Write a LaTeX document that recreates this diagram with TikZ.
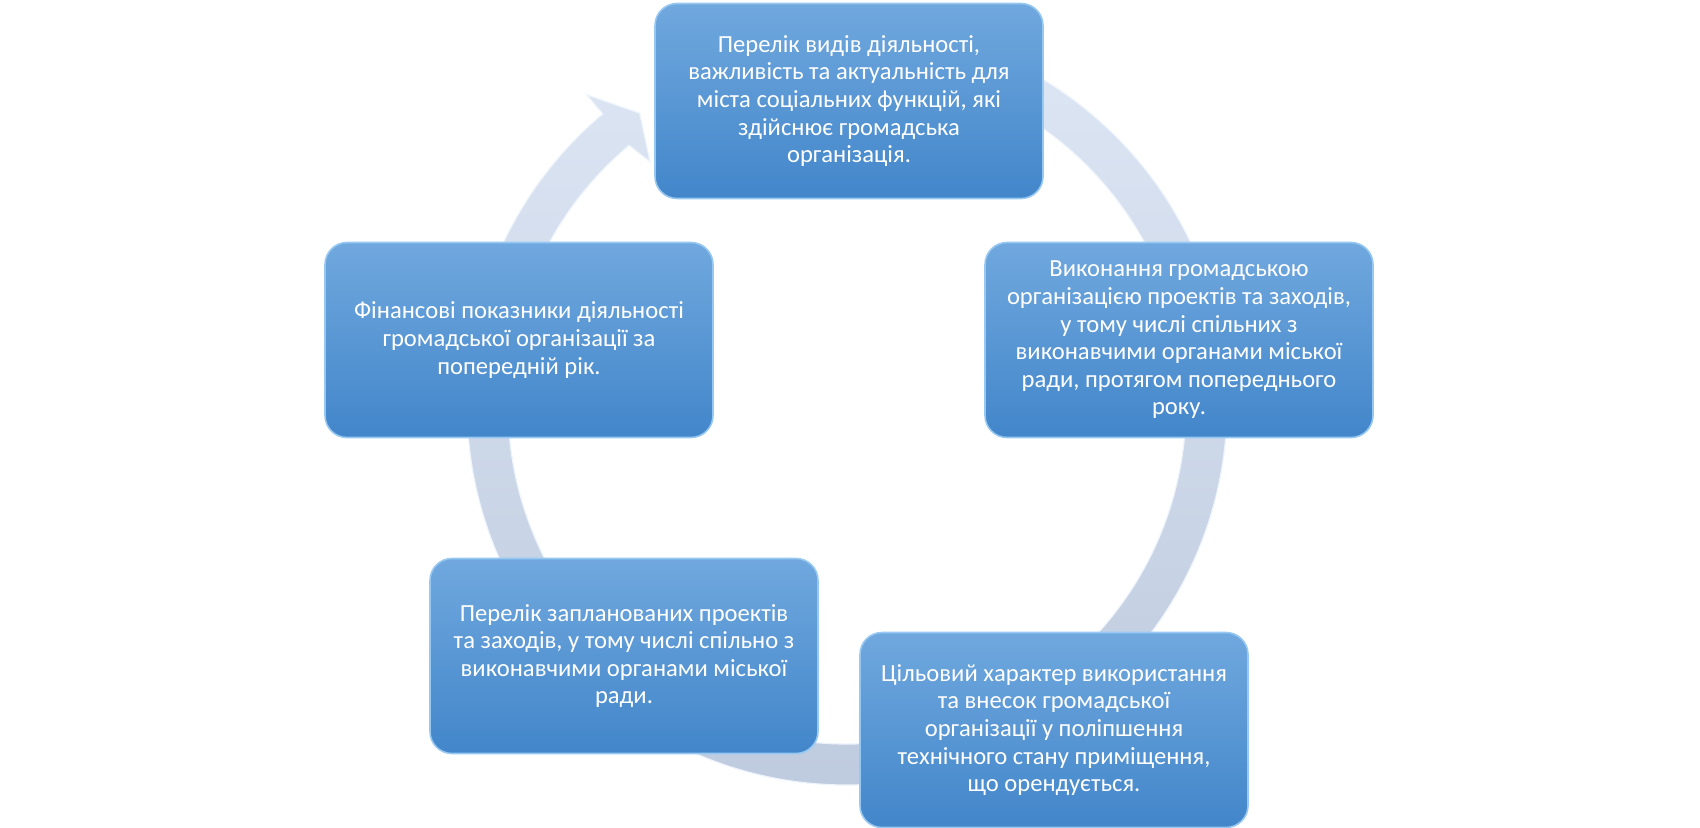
\documentclass[tikz,border=0pt]{standalone}
\usepackage{fontspec}
\setmainfont{Carlito}
\usetikzlibrary{calc}
\definecolor{boxtop}{RGB}{112,168,222}
\definecolor{boxbot}{RGB}{66,134,202}
\definecolor{boxrim}{RGB}{150,200,242}
\definecolor{ringtop}{RGB}{222,231,245}
\definecolor{ringbot}{RGB}{190,202,222}
\definecolor{ringedge}{RGB}{238,244,252}
\begin{document}
\begin{tikzpicture}[x=0.5pt,y=-0.5pt,
  card/.style={rounded corners=11pt, top color=boxtop, bottom color=boxbot,
    draw=boxrim, line width=0.8pt, text=white, align=center,
    font=\fontsize{12.3}{13.8}\selectfont,
    minimum width=194pt, minimum height=97.5pt, inner sep=0pt},
  ring/.style={top color=ringtop, bottom color=ringbot, draw=ringedge, line width=0.6pt}]
\useasboundingbox (0,0) rectangle (1700,828);
\coordinate (c) at (847,405);
\path[ring] ($(c)+(-95:380)$) arc[start angle=-95, end angle=230, radius=380]
  -- ($(c)+(230:405)$) -- ($(c)+(234.6:358)$) -- ($(c)+(231:313)$)
  -- ($(c)+(230:339)$) arc[start angle=230, end angle=-95, radius=339] -- cycle;
\node[card] (b1) at (849,101) {Перелік видів діяльності,\\важливість та актуальність для\\міста соціальних функцій, які\\здійснює громадська\\організація.};
\node[card] (b2) at (1179,340) {Виконання громадською\\організацією проектів та заходів,\\у тому числі спільних з\\виконавчими органами міської\\ради, протягом попереднього\\року.};
\node[card] (b3) at (519,340) {Фінансові показники діяльності\\громадської організації за\\попередній рік.};
\node[card] (b4) at (624,656) {Перелік запланованих проектів\\та заходів, у тому числі спільно з\\виконавчими органами міської\\ради.};
\node[card] (b5) at (1054,730) {Цільовий характер використання\\та внесок громадської\\організації у поліпшення\\технічного стану приміщення,\\що орендується.};
\end{tikzpicture}
\end{document}
